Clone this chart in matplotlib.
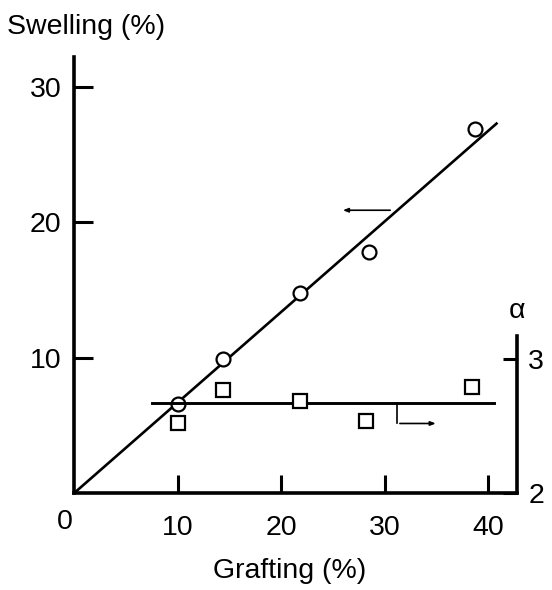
import matplotlib.pyplot as plt

plt.rcParams['font.family'] = ['Liberation Sans', 'DejaVu Sans']

# swelling vs grafting (left axis)
grafting = [10.0, 14.4, 21.8, 28.5, 38.7]
swelling = [6.6, 9.9, 14.8, 17.8, 26.9]
swell_fit_x = [0, 40.8]
swell_fit_y = [0, 27.3]

# alpha vs grafting (right axis)
grafting_a = [10.0, 14.4, 21.8, 28.2, 38.4]
alpha = [2.52, 2.77, 2.69, 2.54, 2.79]
alpha_fit_x = [7.5, 40.6]
alpha_fit_y = [2.67, 2.67]

x_ticks = [10, 20, 30, 40]
y_ticks = [10, 20, 30]
a_ticks = [2, 3]

fs = 20.5

fig = plt.figure(figsize=(5.52, 5.90), dpi=100)
ax = fig.add_axes([0.134, 0.164, 0.803, 0.739])
ax2 = ax.twinx()

ax.set_xlim(0, 42.8)
ax.set_ylim(0, 32.2)
ax2.set_ylim(2, 5.25)

ax.plot(swell_fit_x, swell_fit_y, color='black', lw=1.9, zorder=2)
ax.plot(grafting, swelling, 'o', ms=10, mfc='white', mec='black', mew=1.6, zorder=3)

ax2.plot(alpha_fit_x, alpha_fit_y, color='black', lw=2.1, zorder=2)
ax2.plot(grafting_a, alpha, 's', ms=9.5, mfc='white', mec='black', mew=1.6, zorder=3)

# arrows pointing to each axis
ax.annotate('', xy=(25.7, 20.9), xytext=(30.8, 20.9),
            arrowprops=dict(arrowstyle='-|>,head_length=0.3,head_width=0.12', color='black', lw=1.2))
ax2.plot([31.2, 31.2], [2.67, 2.52], color='black', lw=1.2)
ax2.annotate('', xy=(35.2, 2.52), xytext=(31.2, 2.52),
             arrowprops=dict(arrowstyle='-|>,head_length=0.3,head_width=0.12', color='black', lw=1.2))

for a in (ax, ax2):
    a.spines['top'].set_visible(False)
ax.spines['right'].set_visible(False)
ax2.spines['left'].set_visible(False)
ax2.spines['bottom'].set_visible(False)
ax.spines['left'].set_linewidth(2.6)
ax.spines['bottom'].set_linewidth(2.6)
ax2.spines['right'].set_linewidth(2.6)
ax2.spines['right'].set_bounds(2, 3.17)

ax.set_xticks(x_ticks)
ax.set_yticks(y_ticks)
ax2.set_yticks(a_ticks)
ax.tick_params(axis='x', direction='in', length=13, width=2.2, labelsize=fs, pad=16)
ax.tick_params(axis='y', direction='in', length=14, width=2.2, labelsize=fs, pad=9)
ax2.tick_params(axis='y', direction='in', length=10, width=2.2, labelsize=fs, pad=8)

ax.annotate('0', xy=(0, 0), xytext=(-9, -29), textcoords='offset pixels',
            ha='center', va='center', fontsize=fs)

fig.text(0.013, 0.955, 'Swelling (%)', fontsize=fs, ha='left', va='center')
fig.text(0.525, 0.032, 'Grafting (%)', fontsize=fs, ha='center', va='center')
fig.text(0.937, 0.473, 'α', fontsize=fs, ha='center', va='center')

fig.savefig('out.png', dpi=100)
